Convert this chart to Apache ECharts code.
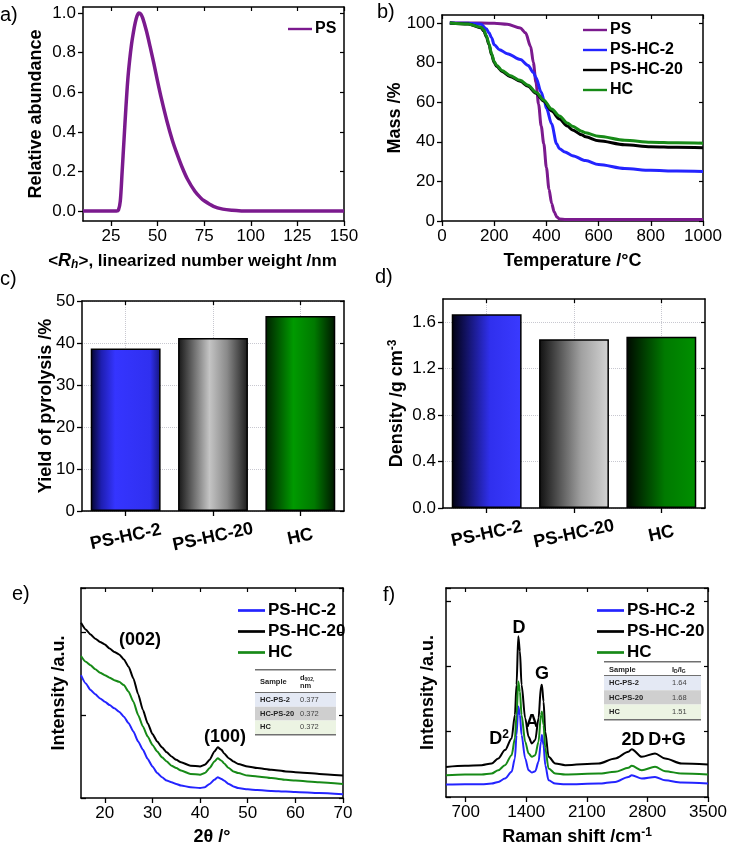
<!DOCTYPE html>
<html><head><meta charset="utf-8">
<script src="https://cdn.jsdelivr.net/npm/echarts@6/dist/echarts.min.js"></script>
<style>html,body{margin:0;padding:0;background:#fff}#c{width:729px;height:848px}</style>
</head><body><div id="c"></div>
<script>
// ---------- DATA ----------
// a) DLS size distribution
const aX = [10,20,28,29,30,31,32,33,34,35,36,37,38,39,40,41,42,44,46,48,50,52,55,58,60,63,66,70,73,75,80,85,90,95,100,150];
const aY = [0,0,0,0.005,0.05,0.2,0.36,0.52,0.66,0.76,0.84,0.9,0.95,0.985,1.0,0.995,0.975,0.91,0.83,0.745,0.655,0.57,0.455,0.355,0.3,0.225,0.162,0.1,0.068,0.052,0.024,0.01,0.004,0.001,0,0];
const aXTicks = [25,50,75,100,125,150];
const aYTicks = [0,0.2,0.4,0.6,0.8,1.0];
// b) TGA
const bT_PS = [30,100,200,250,300,320,340,350,360,370,380,390,400,410,420,430,440,450,475,500,600,800,1000];
const bM_PS = [100,100,99.8,99.3,97.5,95,88,80,70,59,48,39,27,16,9,4.5,2,1,0.8,0.8,0.8,0.8,0.8];
const bT_2 = [30,100,150,170,180,190,200,220,250,300,330,350,360,380,392,400,420,439,450,471,500,550,600,700,800,900,1000];
const bM_2 = [100,99.8,99.3,97,95,92.5,89,86.5,84.5,81.5,78.5,75,72.5,65,60.7,57,49,39,36.5,34.8,33,30.5,28.5,26.5,25.6,25.2,25];
const bT_20 = [30,100,150,160,170,180,190,200,210,230,260,300,330,360,390,420,450,480,500,535,550,600,700,800,900,1000];
const bM_20 = [100,99.5,97.5,96,93,89,84,80,78,75.5,73,70.5,68,64.5,60.5,55.5,51.5,48,46,43.5,42.5,40.5,38.5,37.5,37.2,37];
const bM_HC = [100,99.5,97.8,96.5,93.5,89.5,84.5,80.5,78.5,76,73.5,71,68.5,65,61,56.5,53,49.5,47.8,45.3,44.5,42.8,40.8,39.8,39.5,39.3];
const bXTicks = [0,200,400,600,800,1000];
const bYTicks = [0,20,40,60,80,100];
// c, d) bars
const samples = ['PS-HC-2','PS-HC-20','HC'];
const yieldVals = [38.7, 41.2, 46.4];
const densityVals = [1.669, 1.454, 1.474];
const dYTicks = [0,0.4,0.8,1.2,1.6];
// e) XRD
const eX = [15,16,17,18,19,20,21,22,23,24,25,26,27,28,29,30,31,32,33,34,35,36,38,40,41,42,43,43.7,44.5,45,46,47,48,50,52,55,58,60,65,70];
const e20 = [2.11,2.03,1.97,1.92,1.88,1.85,1.80,1.76,1.73,1.67,1.58,1.44,1.25,1.06,0.9,0.77,0.68,0.61,0.55,0.5,0.46,0.43,0.39,0.38,0.40,0.46,0.56,0.61,0.58,0.54,0.48,0.44,0.41,0.38,0.36,0.34,0.32,0.31,0.29,0.27];
const eHC = [1.71,1.64,1.60,1.55,1.51,1.48,1.45,1.42,1.40,1.36,1.28,1.16,1.0,0.86,0.74,0.64,0.56,0.49,0.44,0.39,0.36,0.33,0.29,0.28,0.30,0.36,0.44,0.48,0.45,0.42,0.36,0.32,0.30,0.27,0.26,0.24,0.22,0.21,0.19,0.17];
const e2 = [1.48,1.38,1.30,1.25,1.20,1.16,1.12,1.08,1.04,0.98,0.90,0.80,0.68,0.58,0.47,0.38,0.30,0.25,0.21,0.19,0.17,0.15,0.13,0.12,0.13,0.17,0.22,0.25,0.23,0.21,0.17,0.14,0.12,0.105,0.095,0.085,0.078,0.073,0.06,0.045];
const eXTicks = [20,30,40,50,60,70];
// f) Raman
const fX = [473,692,885,1000,1077,1154,1231,1269,1288,1308,1327,1346,1388,1427,1465,1504,1542,1570,1581,1600,1620,1658,1735,1850,2235,2427,2581,2619,2735,2888,3004,3196,3500];
const f20 = [0.46,0.477,0.487,0.513,0.59,0.718,0.897,1.256,1.718,2.462,2.231,1.718,1.205,0.923,0.82,0.872,1.205,1.692,1.718,1.462,1.0,0.615,0.513,0.487,0.513,0.59,0.692,0.733,0.615,0.667,0.59,0.513,0.497];
const fHC = [0.333,0.344,0.344,0.359,0.41,0.487,0.641,0.897,1.256,1.769,1.615,1.256,0.846,0.667,0.615,0.641,0.846,1.256,1.308,1.103,0.744,0.436,0.359,0.344,0.359,0.385,0.446,0.477,0.41,0.462,0.395,0.359,0.344];
const f2 = [0.19,0.195,0.195,0.205,0.231,0.282,0.385,0.59,0.949,1.385,1.256,0.949,0.59,0.41,0.374,0.395,0.538,0.846,0.949,0.795,0.487,0.256,0.205,0.195,0.205,0.231,0.308,0.333,0.282,0.308,0.256,0.221,0.205];
const fXTicks = [700,1400,2100,2800,3500];
// tables
const tblSamples = ['HC-PS-2','HC-PS-20','HC'];
const tblD002 = ['0.377','0.372','0.372'];
const tblIDIG = ['1.64','1.68','1.51'];

// ---------- STYLE ----------
const FONT = 'Arial';
const C_PS = '#7b1a8e', C_BLUE = '#2424ff', C_BLACK = '#000000', C_GREEN = '#178a17';
const RICH = {
  i:{fontStyle:'italic', fontWeight:'bold', fontSize:18, fontFamily:FONT, color:'#000'},
  sub:{fontSize:12, fontWeight:'bold', fontFamily:FONT, color:'#000', verticalAlign:'bottom', padding:[6,0,0,0]},
  isub:{fontSize:12, fontStyle:'italic', fontWeight:'bold', fontFamily:FONT, color:'#000', padding:[8,0,0,0]},
  sup:{fontSize:12, fontWeight:'bold', fontFamily:FONT, color:'#000', padding:[0,0,8,0]}
};
function lg(stops){ return {type:'linear', x:0, y:0, x2:1, y2:0, colorStops: stops.map(s=>({offset:s[0], color:s[1]}))}; }
const gradC = [
  lg([[0,'#05052a'],[0.15,'#1e1eb0'],[0.35,'#3535ff'],[0.85,'#3030f0'],[1,'#15157a']]),
  lg([[0,'#151515'],[0.45,'#c4c4c4'],[0.7,'#8a8a8a'],[1,'#1a1a1a']]),
  lg([[0,'#002000'],[0.4,'#009a00'],[0.7,'#007a00'],[1,'#001500']])
];
const gradD = [
  lg([[0,'#00000f'],[0.55,'#3030ee'],[1,'#3a3aff']]),
  lg([[0,'#0f0f0f'],[0.6,'#a0a0a0'],[1,'#d4d4d4']]),
  lg([[0,'#000800'],[0.55,'#007a00'],[1,'#009000']])
];
const plain = v => String(Math.round(v*1000)/1000);

const grids=[], xAxes=[], yAxes=[], series=[], legends=[], graphics=[];
const AXL = {show:true, onZero:false, lineStyle:{color:'#000', width:1.5}};
function axis(gi, pos, o) {
  const a = {gridIndex:gi, position:pos, nameMoveOverlap:false, axisLine:AXL,
    axisTick:{show:true, inside:false, length:5, lineStyle:{color:'#000', width:1.3}},
    axisLabel:{show:true, color:'#000', fontSize:17, fontFamily:FONT, margin:7, formatter:plain},
    splitLine:{show:false}, nameLocation:'middle',
    nameTextStyle:{color:'#000', fontSize:18, fontWeight:'bold', fontFamily:FONT, rich:RICH}};
  for (const k in o) {
    if (a[k] && typeof a[k]==='object' && !Array.isArray(a[k]) && typeof o[k]==='object' && !Array.isArray(o[k])) a[k] = Object.assign({}, a[k], o[k]);
    else a[k] = o[k];
  }
  return a;
}
function panel(box, xo, yo) {
  const gi = grids.length;
  grids.push({left:box[0], top:box[1], width:box[2], height:box[3], outerBoundsMode:'none'});
  const xi = xAxes.length, yi = yAxes.length;
  xAxes.push(axis(gi,'bottom',xo));
  const xm = {type:xo.type||'value', min:xo.min, max:xo.max, data:xo.data,
    axisLabel:{show:false}, axisTick:Object.assign({show:true, inside:true, length:4, lineStyle:{color:'#000',width:1.2}}, xo.axisTick && xo.axisTick.customValues ? {customValues:xo.axisTick.customValues} : {}, xo.type==='category'?{alignWithLabel:true}:{}), name:''};
  if (xo.interval) xm.interval = xo.interval;
  xAxes.push(axis(gi,'top',xm));
  yAxes.push(axis(gi,'left',yo));
  const ym = {type:'value', min:yo.min, max:yo.max, axisLabel:{show:false},
    axisTick:Object.assign({show:true, inside:true, length:4, lineStyle:{color:'#000',width:1.2}}, yo.axisTick && yo.axisTick.customValues ? {customValues:yo.axisTick.customValues} : {}), name:''};
  if (yo.interval) ym.interval = yo.interval;
  yAxes.push(axis(gi,'right',ym));
  return {xi, yi};
}
const zip = (xs, ys) => xs.map((x,i)=>[x, ys[i]]);
function line(p, name, xs, ys, color, w, smooth, mono) {
  const s = {type:'line', name, xAxisIndex:p.xi, yAxisIndex:p.yi, data:zip(xs,ys), symbol:'none',
    smooth: smooth, lineStyle:{color, width:w}, itemStyle:{color}, z:3};
  if (mono !== false) s.smoothMonotone = 'x';
  series.push(s);
}
function legend(names, left, top, fs, gap, w) {
  legends.push({data:names, orient:'vertical', left, top, itemWidth:w, itemHeight:14, itemGap:gap,
    icon:'path://M0,0 L10,0 L10,1 L0,1 Z',
    textStyle:{color:'#000', fontSize:fs, fontWeight:'bold', fontFamily:FONT, padding:[0,0,0,-2]},
    selectedMode:false});
}
function txt(x, y, text, o) {
  graphics.push({type:'text', x, y, style:Object.assign({text, fill:'#000', fontSize:20, fontFamily:FONT, align:'left', verticalAlign:'middle'}, o||{})});
}

// ---------- a ----------
const pa = panel([83,7,261,214],
  {type:'value', min:10, max:150, axisTick:{customValues:aXTicks}, axisLabel:{customValues:aXTicks},
   name:'<{i|R}{isub|h}>, linearized number weight /nm', nameGap:30, nameTextStyle:{fontSize:17, padding:[0,42,0,0]}},
  {type:'value', min:-0.05, max:1.03, axisTick:{customValues:aYTicks}, axisLabel:{customValues:aYTicks, formatter:v=>v.toFixed(1)},
   name:'Relative abundance', nameGap:38});
line(pa, 'PS', aX, aY, C_PS, 3.5, 0.3, false);
legend(['PS'], 283, 16, 16, 4, 24);

// ---------- b ----------
const pb = panel([442,15,261,206],
  {type:'value', min:0, max:1000, axisTick:{customValues:bXTicks}, axisLabel:{customValues:bXTicks},
   name:'Temperature /°C', nameGap:31},
  {type:'value', min:0, max:104, axisTick:{customValues:bYTicks}, axisLabel:{customValues:bYTicks},
   name:'Mass /%', nameGap:38});
line(pb, 'PS', bT_PS, bM_PS, C_PS, 3, 0.3);
line(pb, 'PS-HC-2', bT_2, bM_2, C_BLUE, 3, 0.3);
line(pb, 'PS-HC-20', bT_20, bM_20, C_BLACK, 3, 0.3);
line(pb, 'HC', bT_20, bM_HC, C_GREEN, 3, 0.3);
legend(['PS','PS-HC-2','PS-HC-20','HC'], 578, 17, 16, 4, 24);

// ---------- c ----------
const gridDotted = {show:true, lineStyle:{color:'#c8c8d0', type:'dotted', width:1}};
const catLabel = {rotate:12, align:'center', verticalAlign:'middle', margin:26, fontSize:18, fontWeight:'bold', interval:0, hideOverlap:false, formatter:null};
const pc = panel([82,301,262,210],
  {type:'category', data:samples, axisTick:{alignWithLabel:true, length:5}, splitLine:Object.assign({alignWithLabel:true}, gridDotted),
   axisLabel:catLabel},
  {type:'value', min:0, max:50, interval:10, splitLine:gridDotted, name:'Yield of pyrolysis /%', nameGap:27});
series.push({type:'bar', xAxisIndex:pc.xi, yAxisIndex:pc.yi, barWidth:'80%',
  data: yieldVals.map((v,i)=>({value:v, itemStyle:{color:gradC[i]}})),
  itemStyle:{borderColor:'#000', borderWidth:1.5}, z:3});

// ---------- d ----------
const pd = panel([443,299,262,209],
  {type:'category', data:samples, axisTick:{alignWithLabel:true, length:5}, splitLine:Object.assign({alignWithLabel:true}, gridDotted),
   axisLabel:catLabel},
  {type:'value', min:0, max:1.8, axisTick:{customValues:dYTicks}, axisLabel:{customValues:dYTicks, formatter:v=>v.toFixed(1)},
   splitLine:Object.assign({}, gridDotted), name:'Density /g cm{sup|-3}', nameGap:36});
series.push({type:'bar', xAxisIndex:pd.xi, yAxisIndex:pd.yi, barWidth:'80%',
  data: densityVals.map((v,i)=>({value:v, itemStyle:{color:gradD[i]}})),
  itemStyle:{borderColor:'#000', borderWidth:1.5}, z:3});

// ---------- e ----------
const pe = panel([81,588,262,210],
  {type:'value', min:15, max:70, axisTick:{customValues:eXTicks}, axisLabel:{customValues:eXTicks},
   name:'2θ /°', nameGap:30},
  {type:'value', min:0, max:2.53, interval:1, axisLabel:{show:false}, axisTick:{inside:true, length:5},
   name:'Intensity /a.u.', nameGap:13});
line(pe, 'PS-HC-2', eX, e2, C_BLUE, 2, 0.2);
line(pe, 'PS-HC-20', eX, e20, C_BLACK, 2, 0.2);
line(pe, 'HC', eX, eHC, C_GREEN, 2, 0.2);
legend(['PS-HC-2','PS-HC-20','HC'], 233, 597, 17, 4, 27);
txt(140, 640, '(002)', {fontSize:18, fontWeight:'bold', align:'center'});
txt(225, 737, '(100)', {fontSize:18, fontWeight:'bold', align:'center'});

// ---------- f ----------
const pf = panel([446,588,262,209],
  {type:'value', min:473, max:3500, axisTick:{customValues:fXTicks}, axisLabel:{customValues:fXTicks},
   name:'Raman shift /cm{sup|-1}', nameGap:30},
  {type:'value', min:0, max:3.2, interval:1, axisLabel:{show:false}, axisTick:{inside:true, length:5},
   name:'Intensity /a.u.', nameGap:9});
line(pf, 'PS-HC-2', fX, f2, C_BLUE, 2, 0.3);
line(pf, 'PS-HC-20', fX, f20, C_BLACK, 2, 0.3);
line(pf, 'HC', fX, fHC, C_GREEN, 2, 0.3);
legend(['PS-HC-2','PS-HC-20','HC'], 592, 597, 17, 4, 27);
const annF = {fontSize:18, fontWeight:'bold', align:'center'};
txt(519, 628, 'D', annF);
txt(542, 674, 'G', annF);
txt(532, 722, 'A', annF);
txt(499, 739, 'D{s|2}', Object.assign({}, annF, {rich:{s:{fontSize:12, fontWeight:'bold', fontFamily:FONT, padding:[0,0,9,0]}}}));
txt(633, 740, '2D', annF);
txt(667, 740, 'D+G', annF);

// ---------- panel letters ----------
txt(0, 15, 'a)'); txt(377, 12, 'b)'); txt(0, 279, 'c)'); txt(375, 277, 'd)'); txt(12, 594, 'e)'); txt(383, 595, 'f)');

// ---------- tables ----------
function table(x0, w, top, hdrH, rowH, col2, header2, rich2, vals) {
  const rowCols = ['#e4e9f4','#cfcfcf','#ecf4e3'];
  graphics.push({type:'rect', shape:{x:x0, y:top, width:w, height:1.5}, style:{fill:'#707070'}});
  txt(x0+5, top+hdrH/2+1, 'Sample', {fontSize:7.5, fontWeight:'bold', fill:'#222'});
  txt(col2, top+hdrH/2+1, header2, {fontSize:7.5, fontWeight:'bold', fill:'#222', rich:rich2, lineHeight:8});
  const y0 = top + hdrH;
  graphics.push({type:'rect', shape:{x:x0, y:y0-1, width:w, height:1.2}, style:{fill:'#707070'}});
  tblSamples.forEach((s,i)=>{
    graphics.push({type:'rect', shape:{x:x0, y:y0+i*rowH, width:w, height:rowH}, style:{fill:rowCols[i]}});
    txt(x0+5, y0+i*rowH+rowH/2, s, {fontSize:7.5, fontWeight:'bold', fill:'#222'});
    txt(col2, y0+i*rowH+rowH/2, vals[i], {fontSize:7.5, fill:'#444'});
  });
  graphics.push({type:'rect', shape:{x:x0, y:y0+3*rowH, width:w, height:1.5}, style:{fill:'#707070'}});
}
const subRich = {s:{fontSize:5, fontWeight:'bold', fontFamily:FONT, fill:'#222', padding:[4,0,0,0]}};
table(255, 81, 669, 24, 13.7, 300, 'd{s|002,}\nnm', subRich, tblD002);
table(604, 97, 661, 15, 14.3, 672, 'I{s|D}/I{s|G}', subRich, tblIDIG);

const chart = echarts.init(document.getElementById('c'), null, {renderer:'canvas'});
chart.setOption({animation:false, backgroundColor:'#fff', grid:grids, xAxis:xAxes, yAxis:yAxes, series, legend:legends, graphic:graphics});
</script></body></html>
